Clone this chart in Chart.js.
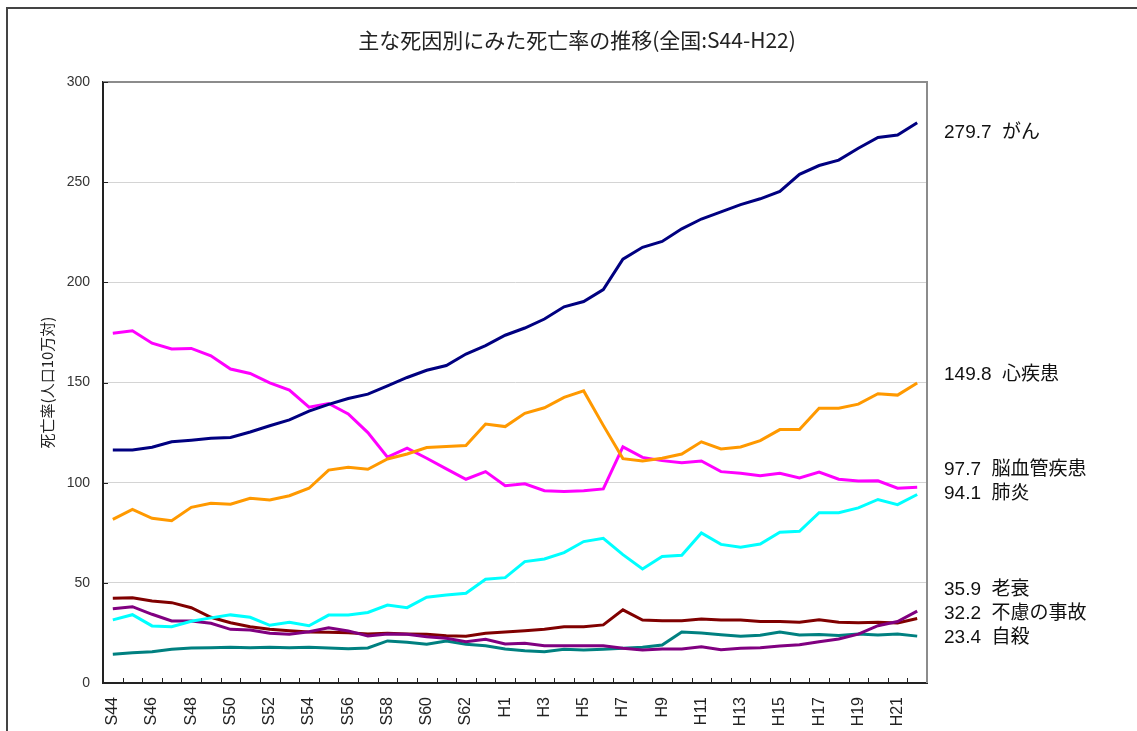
<!DOCTYPE html>
<html><head><meta charset="utf-8">
<script src="https://cdn.jsdelivr.net/npm/chart.js@4.4.0/dist/chart.umd.min.js"></script>
<style>
html,body{margin:0;padding:0;background:#fff;overflow:hidden;}
#wrap{position:relative;width:1137px;height:731px;overflow:hidden;}
canvas{display:block;}
</style></head><body>
<div id="wrap"><canvas id="c" width="1137" height="731"></canvas></div>
<script>
const categories = ['S44','S45','S46','S47','S48','S49','S50','S51','S52','S53','S54','S55','S56','S57','S58','S59','S60','S61','S62','S63',
  'H1','H2','H3','H4','H5','H6','H7','H8','H9','H10','H11','H12','H13','H14','H15','H16','H17','H18','H19','H20','H21','H22'];
const yTicks = [0, 50, 100, 150, 200, 250, 300];
const seriesNames = ['がん','心疾患','脳血管疾患','肺炎','老衰','不慮の事故','自殺'];
const cancer = [116.3,116.3,117.7,120.4,121.2,122.2,122.6,125.3,128.4,131.3,135.7,139.1,142.0,144.2,148.3,152.5,156.1,158.5,164.2,168.4,
  173.6,177.2,181.7,187.8,190.4,196.4,211.6,217.5,220.4,226.7,231.6,235.2,238.8,241.7,245.4,253.9,258.3,261.0,266.9,272.3,273.5,279.7];
const heart = [81.7,86.7,82.2,81.0,87.7,89.7,89.2,92.2,91.4,93.5,97.2,106.3,107.7,106.7,111.8,114.3,117.5,118.0,118.5,129.3,
  128.0,134.6,137.4,142.6,145.8,128.6,112.0,110.8,112.2,114.3,120.4,116.8,117.8,121.0,126.5,126.5,137.2,137.2,139.2,144.4,143.7,149.8];
const cerebro = [174.6,175.8,169.6,166.7,167.0,163.3,156.7,154.5,149.8,146.2,137.7,139.5,134.3,125.0,112.7,117.2,112.2,106.9,101.7,105.5,
  98.5,99.4,96.0,95.6,96.0,96.9,117.9,112.6,111.0,110.0,110.8,105.5,104.7,103.4,104.7,102.3,105.3,101.7,100.8,100.9,97.2,97.7];
const pneumonia = [31.5,34.1,28.5,28.1,30.8,32.5,34.0,32.8,28.8,30.3,28.6,33.9,33.9,35.2,38.9,37.6,42.8,43.9,44.8,51.8,
  52.6,60.6,61.9,65.1,70.6,72.2,64.1,56.9,63.1,63.8,74.9,69.2,67.8,69.4,75.3,75.7,85.0,85.0,87.4,91.6,89.0,94.1];
const senility = [37.1,38.1,34.3,31.0,31.0,29.8,26.8,26.5,24.8,24.3,25.6,27.6,26.0,23.5,24.5,24.3,23.1,22.3,20.6,21.8,
  19.5,19.8,18.6,18.6,18.6,18.6,17.3,16.5,17.0,17.0,18.1,16.6,17.3,17.6,18.5,19.1,20.6,22.0,24.4,28.6,30.7,35.9];
const accident = [42.3,42.6,40.9,40.1,37.6,32.8,30.1,28.1,26.8,26.1,25.5,25.3,25.1,24.5,24.8,24.5,24.3,23.6,23.3,24.8,
  25.5,26.1,26.8,28.1,28.1,29.0,36.5,31.4,31.1,31.1,32.0,31.4,31.4,30.7,30.7,30.3,31.6,30.3,30.1,30.3,30.0,32.2];
const suicide = [14.3,15.1,15.6,16.8,17.5,17.6,17.8,17.6,17.8,17.6,17.8,17.5,17.1,17.5,21.0,20.3,19.3,21.0,19.3,18.6,
  17.0,16.1,15.6,16.8,16.5,16.8,17.3,17.8,19.0,25.4,25.0,24.1,23.3,23.8,25.5,24.0,24.2,23.7,24.4,24.0,24.4,23.4];

const seriesData = [cancer, heart, cerebro, pneumonia, senility, accident, suicide];
const seriesColors = ['#000080','#FF9900','#FF00FF','#00FFFF','#800080','#800000','#008080'];
// vertical anchor (in axis units) of each right-hand label
const labelAnchors = [274.6, 153.8, 106.3, 94.4, 46.4, 34.4, 22.5];

const decor = {
  id: 'decor',
  beforeDraw(chart) {
    const ctx = chart.ctx;
    ctx.save();
    ctx.strokeStyle = '#444';
    ctx.lineWidth = 2;
    ctx.beginPath();
    ctx.moveTo(7, 731); ctx.lineTo(7, 8); ctx.lineTo(1137, 8);
    ctx.stroke();
    ctx.fillStyle = '#222';
    ctx.font = '21px "Noto Sans CJK JP"';
    ctx.textAlign = 'center';
    ctx.textBaseline = 'middle';
    ctx.fillText('主な死因別にみた死亡率の推移(全国:S44-H22)', 577, 40);
    ctx.restore();
  },
  afterDraw(chart) {
    const ctx = chart.ctx, a = chart.chartArea;
    const xs = chart.scales.x, ys = chart.scales.y;
    ctx.save();
    ctx.strokeStyle = '#8c8c8c';
    ctx.lineWidth = 2;
    ctx.beginPath();
    ctx.moveTo(a.left, a.top); ctx.lineTo(a.right, a.top); ctx.lineTo(a.right, a.bottom);
    ctx.stroke();
    ctx.strokeStyle = '#222';
    ctx.lineWidth = 1;
    ctx.beginPath();
    yTicks.forEach(v => { const y = Math.round(ys.getPixelForValue(v)) + 0.5; ctx.moveTo(a.left, y); ctx.lineTo(a.left + 5, y); });
    const n = categories.length, bw = (a.right - a.left) / n;
    for (let i = 1; i < n; i++) { const x = Math.round(xs.getPixelForValue(i) - bw / 2) + 0.5; ctx.moveTo(x, a.bottom); ctx.lineTo(x, a.bottom - 5); }
    ctx.stroke();
    ctx.fillStyle = '#111';
    ctx.font = '19px "Liberation Sans", "Noto Sans CJK JP"';
    ctx.textAlign = 'left';
    ctx.textBaseline = 'middle';
    seriesNames.forEach((name, k) => {
      const arr = seriesData[k];
      const txt = arr[arr.length - 1].toFixed(1) + '  ' + name;
      ctx.fillText(txt, a.right + 17, ys.getPixelForValue(labelAnchors[k]));
    });
    ctx.restore();
  }
};

new Chart(document.getElementById('c'), {
  type: 'line',
  data: {
    labels: categories,
    datasets: seriesNames.map((name, k) => ({
      label: name,
      data: seriesData[k],
      borderColor: seriesColors[k],
      backgroundColor: seriesColors[k],
      borderWidth: 3,
      pointRadius: 0,
      tension: 0,
      fill: false
    }))
  },
  options: {
    responsive: false,
    animation: false,
    devicePixelRatio: 1,
    layout: { padding: { top: 82, right: 210, left: 0, bottom: 0 } },
    plugins: { legend: { display: false }, tooltip: { enabled: false }, title: { display: false } },
    scales: {
      x: {
        offset: true,
        grid: { display: false, drawTicks: false, offset: true },
        border: { display: true, color: '#222', width: 2 },
        ticks: {
          autoSkip: false, maxRotation: 90, minRotation: 90, padding: 14, color: '#222',
          font: { family: '"Liberation Sans", Arial', size: 16 },
          callback: function (v, i) { return i % 2 === 0 ? this.getLabelForValue(v) : ''; }
        },
        afterFit: s => { s.height = 48; }
      },
      y: {
        min: 0, max: 300,
        ticks: { stepSize: 50, padding: 13, color: '#333', font: { family: '"Liberation Sans", Arial', size: 14 } },
        grid: { color: '#d4d4d4', lineWidth: 1, drawTicks: false },
        border: { display: true, color: '#222', width: 2 },
        title: { display: true, text: '死亡率(人口10万対)', color: '#222', font: { family: '"Noto Sans CJK JP"', size: 15 }, padding: { top: 38, bottom: 0 } },
        afterFit: s => { s.width = 103; }
      }
    }
  },
  plugins: [decor]
});
</script>
</body></html>
